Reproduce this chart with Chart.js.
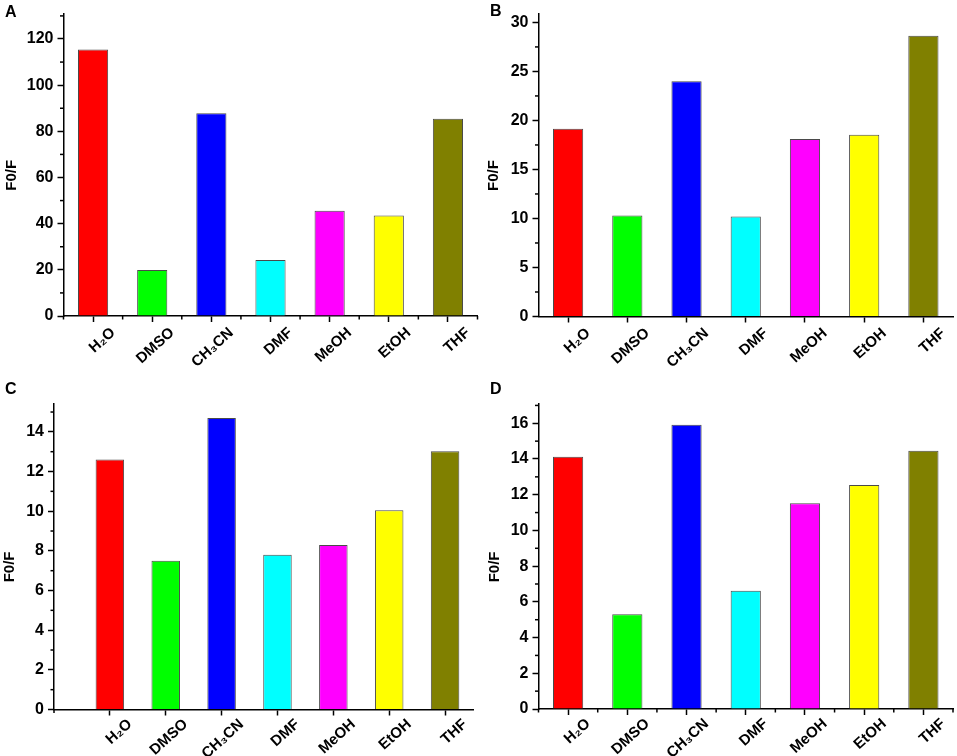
<!DOCTYPE html>
<html><head><meta charset="utf-8">
<script src="https://cdn.jsdelivr.net/npm/chart.js@4.4.1/dist/chart.umd.min.js"></script>
<style>
html,body{margin:0;padding:0;background:#fff;}
body{width:957px;height:756px;position:relative;overflow:hidden;font-family:'Liberation Sans',Arial,sans-serif;}
.panel{position:absolute;}
.letter{position:absolute;font:bold 16px/16px 'Liberation Sans',Arial,sans-serif;color:#000;}
</style></head><body>
<div class="panel" style="left:0;top:0;width:480px;height:378px"><canvas id="cA"></canvas></div>
<div class="panel" style="left:480px;top:0;width:477px;height:378px"><canvas id="cB"></canvas></div>
<div class="panel" style="left:0;top:380px;width:480px;height:376px"><canvas id="cC"></canvas></div>
<div class="panel" style="left:480px;top:380px;width:477px;height:376px"><canvas id="cD"></canvas></div>
<div class="letter" style="left:5px;top:4px">A</div>
<div class="letter" style="left:490px;top:3px">B</div>
<div class="letter" style="left:5px;top:381px">C</div>
<div class="letter" style="left:490px;top:381px">D</div>
<script>
const categories = ['H\u2082O','DMSO','CH\u2083CN','DMF','MeOH','EtOH','THF'];
const barColors = ['#ff0000','#00ff00','#0000ff','#00ffff','#ff00ff','#ffff00','#808000'];
const categoryPositions = [1,2,3,4,5,6,7];

const valuesA = [115.4, 19.9, 87.8, 24.3, 45.6, 43.5, 85.4];
const valuesB = [19.15, 10.3, 24.0, 10.2, 18.1, 18.55, 28.65];
const valuesC = [12.6, 7.5, 14.7, 7.8, 8.3, 10.05, 13.02];
const valuesD = [14.12, 5.3, 15.92, 6.62, 11.52, 12.54, 14.46];

const yTicksA = [0,20,40,60,80,100,120];
const yMinorA = [10,30,50,70,90,110,130];
const yTicksB = [0,5,10,15,20,25,30];
const yMinorB = [2.5,7.5,12.5,17.5,22.5,27.5];
const yTicksC = [0,2,4,6,8,10,12,14];
const yMinorC = [1,3,5,7,9,11,13,15];
const yTicksD = [0,2,4,6,8,10,12,14,16];
const yMinorD = [1,3,5,7,9,11,13,15,17];

const xMinorA = [0.5,1.5,2.5,3.5,4.5,5.5,6.5,7.5];
const xMinorB = [];
const xMinorC = [0];
const xMinorD = [0.5,1.5,2.5,3.5,4.5,5.5,6.5,7.5];

const FONT = "'Liberation Sans', Arial, sans-serif";

const minorTicks = {
  id: 'minorTicks',
  afterDraw(chart, args, opts) {
    const ctx = chart.ctx, xs = chart.scales.x, ys = chart.scales.y, a = chart.chartArea;
    ctx.save();
    ctx.strokeStyle = '#000';
    ctx.lineWidth = 1.5;
    (opts.y || []).forEach(v => {
      const p = ys.getPixelForValue(v);
      ctx.beginPath(); ctx.moveTo(a.left - opts.len, p); ctx.lineTo(a.left, p); ctx.stroke();
    });
    (opts.x || []).forEach(v => {
      const p = xs.getPixelForValue(v);
      ctx.beginPath(); ctx.moveTo(p, a.bottom); ctx.lineTo(p, a.bottom + opts.len); ctx.stroke();
    });
    ctx.restore();
  }
};

function makeChart(id, c) {
  const data = c.values.map((v, i) => ({x: categoryPositions[i], y: v}));
  return new Chart(document.getElementById(id), {
    type: 'bar',
    data: {
      datasets: [{
        data: data,
        backgroundColor: barColors,
        borderColor: '#4a4a4a',
        borderWidth: 1,
        barPercentage: 0.51,
        categoryPercentage: 1.0
      }]
    },
    options: {
      responsive: true,
      maintainAspectRatio: false,
      animation: false,
      layout: {padding: {left: 0, top: c.area.top, right: c.width - c.area.right, bottom: 0}},
      plugins: {
        legend: {display: false},
        tooltip: {enabled: false},
        minorTicks: {x: c.xMinor, y: c.yMinor, len: 3.5}
      },
      scales: {
        x: {
          type: 'linear',
          min: c.xMin, max: c.xMax,
          offset: false,
          afterBuildTicks: s => { s.ticks = categoryPositions.map(v => ({value: v})); },
          afterFit: s => { s.height = c.height - c.area.bottom; },
          grid: {display: true, offset: false, drawOnChartArea: false, drawTicks: true, tickLength: 6, tickColor: '#000', tickWidth: 1.5},
          border: {display: true, color: '#000', width: 1.5},
          ticks: {
            autoSkip: false, maxRotation: 42, minRotation: 42, padding: c.labelPad, labelOffset: 20,
            color: '#000', font: {family: FONT, size: 15, weight: 'bold'},
            callback: v => { const i = categoryPositions.indexOf(v); return i >= 0 ? categories[i] : ''; }
          }
        },
        y: {
          type: 'linear',
          min: 0, max: c.yMax,
          afterBuildTicks: s => { s.ticks = c.yTicks.map(v => ({value: v})); },
          afterFit: s => { s.width = c.area.left; },
          grid: {display: true, drawOnChartArea: false, drawTicks: true, tickLength: 6, tickColor: '#000', tickWidth: 1.5},
          border: {display: true, color: '#000', width: 1.5},
          ticks: {padding: 4, color: '#000', font: {family: FONT, size: 16, weight: 'bold'}, includeBounds: false},
          title: {display: true, text: 'F0/F     ', color: '#000', font: {family: FONT, size: 15, weight: 'bold'}, padding: {top: c.titlePad, bottom: 0}}
        }
      }
    },
    plugins: [minorTicks]
  });
}

makeChart('cA', {values: valuesA, yMax: 131, yTicks: yTicksA, yMinor: yMinorA, xMinor: xMinorA, xMin: 0.5, xMax: 7.5,
  width: 480, height: 378, area: {left: 63.5, top: 13, right: 477.5, bottom: 316}, titlePad: 2.5, labelPad: 2});
makeChart('cB', {values: valuesB, yMax: 30.9, yTicks: yTicksB, yMinor: yMinorB, xMinor: xMinorB, xMin: 0.5, xMax: 7.5,
  width: 477, height: 378, area: {left: 58.5, top: 12.5, right: 473, bottom: 316.5}, titlePad: 5, labelPad: 2});
makeChart('cC', {values: valuesC, yMax: 15.43, yTicks: yTicksC, yMinor: yMinorC, xMinor: xMinorC, xMin: 0, xMax: 7.5,
  width: 480, height: 376, area: {left: 54, top: 23.5, right: 473, bottom: 329.5}, titlePad: 1, labelPad: 0});
makeChart('cD', {values: valuesD, yMax: 17.08, yTicks: yTicksD, yMinor: yMinorD, xMinor: xMinorD, xMin: 0.5, xMax: 7.5,
  width: 477, height: 376, area: {left: 58.5, top: 24, right: 473, bottom: 329}, titlePad: 5.5, labelPad: 0});
</script>
</body></html>
